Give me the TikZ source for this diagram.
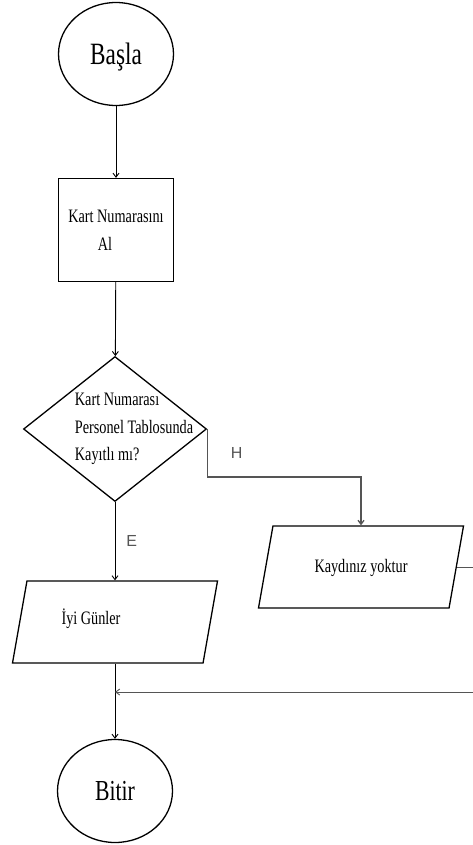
\documentclass[tikz,border=0pt]{standalone}
\usepackage{fontspec}
\setmainfont{Liberation Serif}[FakeStretch=0.75]
\newfontfamily\etiketfont{Liberation Sans}
\usetikzlibrary{arrows.meta,shapes.geometric}
\definecolor{hatgri}{HTML}{555555}

\begin{document}
\begin{tikzpicture}[x=1pt,y=-1pt,>={Straight Barb[length=4pt,width=6pt]},line width=0.9pt]
  \useasboundingbox (0,0) rectangle (473,845);
  \tikzset{uc/.style={draw,ellipse,line width=1.3pt,minimum width=115pt,minimum height=103pt,inner sep=0pt,text depth=0pt},
    islem/.style={draw,line width=1.3pt,rectangle,minimum width=115pt,minimum height=103pt,align=center,font=\fontsize{19}{28}\selectfont},
    karar/.style={draw,line width=1.3pt,diamond,minimum width=183pt,minimum height=145pt,inner sep=0pt},
    cikti/.style={draw,line width=1.3pt,trapezium,trapezium left angle=80,trapezium right angle=100,trapezium stretches body,text height=14pt,text depth=4pt,inner ysep=32pt,minimum width=205pt,font=\fontsize{19}{28}\selectfont},
    harf/.style={font=\etiketfont\fontsize{16}{18}\selectfont,text=hatgri,inner sep=1pt}}
  \node[uc,font=\fontsize{31}{34}\selectfont] (basla) at (116,54) {Başla};
  \node[islem] (kart) at (116,230) {Kart Numarasını\\Al\hspace*{22pt}};
  \node[karar,label={[xshift=19pt,align=left,font=\fontsize{19}{27.5}\selectfont]center:Kart Numarası\\Personel Tablosunda\\Kayıtlı mı?}] (sorgu) at (115,429) {};
  \node[cikti,label={[xshift=-24pt,yshift=3pt,font=\fontsize{19}{28}\selectfont]center:İyi Günler}] (iyi) at (115,622) {};
  \node[cikti] (kayit) at (361,567) {Kaydınız yoktur};
  \node[uc,font=\fontsize{29}{32}\selectfont] (bitir) at (115,791) {Bitir};
  \coordinate (donus) at (500,692);
  \coordinate (birles) at (115,692);
  \draw[->] (basla)--(kart);
  \draw[->] (kart)--(sorgu);
  \draw[->] (sorgu.south)-- node[harf,right=10pt]{E} (iyi.north);
  \draw[hatgri,line width=1.3pt,->] (sorgu.east)-- node[harf,right=22pt]{H} ++(0,48) -| (kayit.north);
  \draw[->] (iyi)--(bitir);
  \draw[hatgri,->] (kayit.east) -| (donus) -- (birles);
\end{tikzpicture}
\end{document}
